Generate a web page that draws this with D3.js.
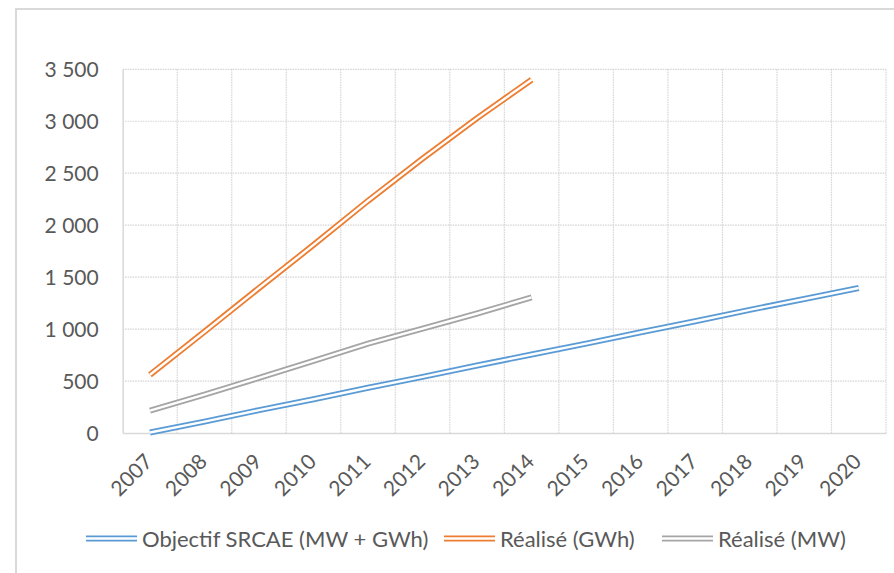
<!DOCTYPE html>
<html>
<head>
<meta charset="utf-8">
<script src="https://cdn.jsdelivr.net/npm/d3@7"></script>
<style>
  body { margin: 0; background: #fff; }
  svg text { font-family: Lato, "Open Sans", sans-serif; fill: #595959; }
</style>
</head>
<body>
<div id="chart"></div>
<script>
// Data
const years = ['2007', '2008', '2009', '2010', '2011', '2012', '2013', '2014',
  '2015', '2016', '2017', '2018', '2019', '2020'];
const objectif = [5, 110, 220, 325, 435, 540, 650, 755, 860, 970, 1075, 1185, 1290, 1395];
const realiseGWh = [560, 975, 1395, 1810, 2235, 2640, 3030, 3400];
const realiseMW = [215, 370, 530, 695, 860, 1005, 1150, 1305];
const yTicks = [0, 500, 1000, 1500, 2000, 2500, 3000, 3500];

const series = [
  { name: 'Objectif SRCAE (MW + GWh)', values: objectif, color: '#5B9BD5' },
  { name: 'Réalisé (GWh)', values: realiseGWh, color: '#ED7D31' },
  { name: 'Réalisé (MW)', values: realiseMW, color: '#A5A5A5' }
];

const width = 894, height = 573;
const plot = { left: 122.7, right: 886, top: 69.3, bottom: 433 };

const svg = d3.select('#chart')
  .append('svg')
  .attr('width', width)
  .attr('height', height);

// chart area border
svg.append('rect')
  .attr('x', 16)
  .attr('y', 9)
  .attr('width', 900)
  .attr('height', 600)
  .style('fill', 'none')
  .style('stroke', '#d9d9d9')
  .style('stroke-width', 2);

// Scales
const x = d3.scaleBand()
  .domain(years)
  .range([plot.left, plot.right])
  .padding(0);

const y = d3.scaleLinear()
  .domain([0, 3500])
  .range([plot.bottom, plot.top]);

const fr = d3.formatLocale({ decimal: ',', thousands: '\u00a0', grouping: [3], currency: ['', ' €'] });
const fmt = fr.format(',d');

// Gridlines
svg.append('g')
  .selectAll('line')
  .data(yTicks.slice(1))
  .enter()
  .append('line')
  .attr('x1', plot.left)
  .attr('x2', plot.right)
  .attr('y1', d => y(d))
  .attr('y2', d => y(d))
  .style('stroke', '#d4d4d4')
  .style('stroke-width', 1.2)
  .style('stroke-dasharray', '1.5,1');

svg.append('g')
  .selectAll('line')
  .data(years)
  .enter()
  .append('line')
  .attr('x1', d => x(d) + x.bandwidth())
  .attr('x2', d => x(d) + x.bandwidth())
  .attr('y1', plot.top)
  .attr('y2', plot.bottom)
  .style('stroke', '#d4d4d4')
  .style('stroke-width', 1.2)
  .style('stroke-dasharray', '1.5,1');

// Axes
const xAxis = svg.append('g')
  .attr('transform', `translate(0,${plot.bottom})`)
  .call(d3.axisBottom(x).tickSize(0));
xAxis.select('.domain').style('stroke', '#d9d9d9').style('stroke-width', 1.5);
xAxis.selectAll('text')
  .attr('x', 0)
  .attr('y', 0)
  .attr('dy', 0)
  .attr('transform', 'translate(4,30) rotate(-45)')
  .style('text-anchor', 'end')
  .style('font-size', '21px')
  .style('font-family', 'Lato, sans-serif')
  .style('fill', '#595959');

const yAxis = svg.append('g')
  .attr('transform', `translate(${plot.left},0)`)
  .call(d3.axisLeft(y).tickValues(yTicks).tickSize(0).tickPadding(24).tickFormat(fmt));
yAxis.select('.domain').style('stroke', '#d9d9d9').style('stroke-width', 1.5);
yAxis.selectAll('text')
  .attr('dy', '0.36em')
  .style('font-size', '21px')
  .style('font-family', 'Lato, sans-serif')
  .style('fill', '#595959');

// Lines (double style: colored stroke with a white core)
const line = d3.line()
  .x((d, i) => x(years[i]) + x.bandwidth() / 2)
  .y(d => y(d));

const lines = svg.append('g');
series.forEach(s => {
  lines.append('path')
    .attr('d', line(s.values))
    .style('fill', 'none')
    .style('stroke', s.color)
    .style('stroke-width', 6);
  lines.append('path')
    .attr('d', line(s.values))
    .style('fill', 'none')
    .style('stroke', '#ffffff')
    .style('stroke-width', 2.4);
});

// Legend
const legendX = [86, 444, 662];
const legend = svg.append('g')
  .selectAll('g')
  .data(series)
  .enter()
  .append('g')
  .attr('transform', (d, i) => `translate(${legendX[i]},538.5)`);

legend.append('line')
  .attr('x1', 0).attr('x2', 51)
  .style('stroke', d => d.color)
  .style('stroke-width', 6);
legend.append('line')
  .attr('x1', 0).attr('x2', 51)
  .style('stroke', '#ffffff')
  .style('stroke-width', 2.4);
legend.append('text')
  .attr('x', 56)
  .attr('y', 8)
  .style('font-size', '22px')
  .text(d => d.name);
</script>
</body>
</html>
